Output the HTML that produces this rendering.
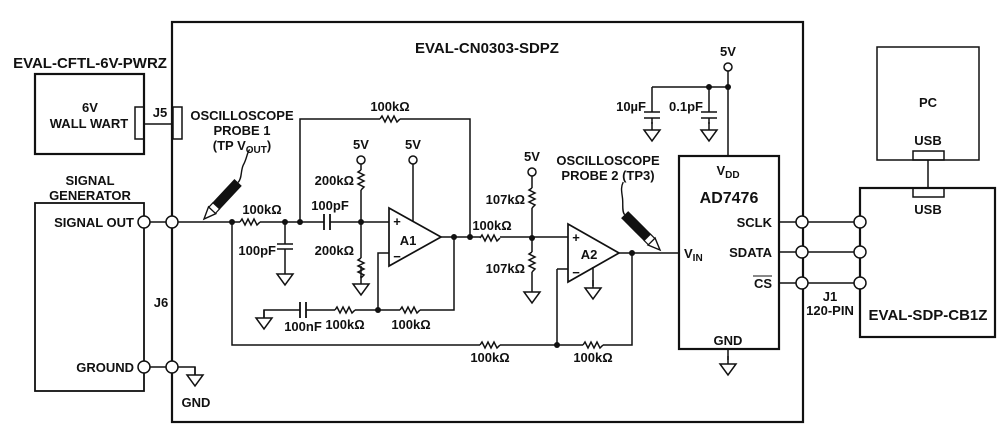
<!DOCTYPE html>
<html><head><meta charset="utf-8"><style>
html,body{margin:0;padding:0;background:#fff}
svg{display:block}
text{font-family:"Liberation Sans",Arial,sans-serif;font-weight:bold;font-size:13px;fill:#111}
</style></head><body>
<svg width="1007" height="443" viewBox="0 0 1007 443" xmlns="http://www.w3.org/2000/svg">
<defs>
<g id="gnd"><path d="M0 0V8M-8 8H8L0 19Z" fill="none" stroke="#111" stroke-width="1.5"/></g>
<g id="rh"><path d="M-10 0 -8 -3 -5 3 -2 -3 1 3 4 -3 7 3 10 0" fill="none" stroke="#111" stroke-width="1.5"/></g>
<g id="rv"><path d="M0 -10 -3 -8 3 -5 -3 -2 3 1 -3 4 3 7 0 10" fill="none" stroke="#111" stroke-width="1.5"/></g>
<g id="probe"><path d="M0 0 L12 -5 L12 5 Z" fill="#fff" stroke="#111" stroke-width="1.4"/><rect x="12" y="-4.5" width="6" height="9" fill="#fff" stroke="#111" stroke-width="1.2"/><rect x="18" y="-5" width="32" height="10" fill="#111"/></g>
</defs>
<g fill="none" stroke="#111" stroke-width="1.5">
<rect x="172" y="22" width="631" height="400" stroke-width="2.2"/>
<rect x="35" y="74" width="109" height="80" stroke-width="2.2"/>
<rect x="135" y="107" width="9" height="32"/>
<rect x="173" y="107" width="9" height="32"/>
<path d="M144 124H172"/>
<rect x="35" y="203" width="109" height="188" stroke-width="1.8"/>
<circle cx="144" cy="222" r="6" fill="#fff"/><circle cx="172" cy="222" r="6" fill="#fff"/>
<circle cx="144" cy="367" r="6" fill="#fff"/><circle cx="172" cy="367" r="6" fill="#fff"/>
<path d="M150 222H166M150 367H166M178 367H195V375"/>
<path d="M178 222H240M260 222H324M330 222H389"/>
<path d="M324 214V230M330 214V230" stroke-width="1.8"/>
<path d="M285 222V244M277 244H293M277 249H293M285 249V266"/>
<path d="M300 222V119H380M400 119H470V237"/>
<path d="M361 164V170M361 190V258M361 278V266"/>
<path d="M413 164V221"/>
<path d="M389 208L441 237L389 266Z" stroke-width="1.7"/>
<path d="M441 237H480M500 237H568"/>
<path d="M454 237V310H420M400 310H355M335 310H306M300 310H264V318"/>
<path d="M306 302V318M300 302V318" stroke-width="1.8"/>
<path d="M378 310V253H389"/>
<path d="M232 222V345H480M500 345H583M603 345H632V253"/>
<path d="M532 176V188M532 208V252M532 272V284"/>
<path d="M568 224L619 253L568 282Z" stroke-width="1.7"/>
<path d="M557 269H568M557 269V345"/>
<path d="M593 267V286"/>
<path d="M619 253H679"/>
<rect x="679" y="156" width="100" height="193" stroke-width="2.2"/>
<path d="M728 71V156M652 87H728M652 87V112M709 87V112"/>
<path d="M644 112H660M644 118H660M701 112H717M701 118H717"/>
<path d="M652 118V124M709 118V124"/>
<path d="M728 349V360"/>
<path d="M779 222H854M779 252H854M779 283H854"/>
<rect x="860" y="188" width="135" height="149" stroke-width="2.2"/>
<rect x="877" y="47" width="102" height="113"/>
<rect x="913" y="151" width="31" height="9"/>
<rect x="913" y="188" width="31" height="9"/>
<path d="M928 160V188"/>
</g>
<g fill="#fff" stroke="#111" stroke-width="1.5">
<circle cx="802" cy="222" r="6"/><circle cx="802" cy="252" r="6"/><circle cx="802" cy="283" r="6"/>
<circle cx="860" cy="222" r="6"/><circle cx="860" cy="252" r="6"/><circle cx="860" cy="283" r="6"/>
<circle cx="361" cy="160" r="4"/><circle cx="413" cy="160" r="4"/><circle cx="532" cy="172" r="4"/><circle cx="728" cy="67" r="4"/>
</g>
<g fill="#111">
<circle cx="232" cy="222" r="3"/><circle cx="285" cy="222" r="3"/><circle cx="300" cy="222" r="3"/><circle cx="361" cy="222" r="3"/>
<circle cx="454" cy="237" r="3"/><circle cx="470" cy="237" r="3"/><circle cx="378" cy="310" r="3"/>
<circle cx="532" cy="238" r="3"/><circle cx="557" cy="345" r="3"/><circle cx="632" cy="253" r="3"/>
<circle cx="709" cy="87" r="3"/><circle cx="728" cy="87" r="3"/>
</g>
<use href="#rh" x="250" y="222"/><use href="#rh" x="390" y="119"/><use href="#rh" x="345" y="310"/><use href="#rh" x="410" y="310"/>
<use href="#rh" x="490" y="238"/><use href="#rh" x="490" y="345"/><use href="#rh" x="593" y="345"/>
<use href="#rv" x="361" y="180"/><use href="#rv" x="361" y="268"/><use href="#rv" x="532" y="198"/><use href="#rv" x="532" y="262"/>
<use href="#gnd" x="285" y="266"/><use href="#gnd" x="361" y="276"/><use href="#gnd" x="264" y="310"/><use href="#gnd" x="195" y="367"/>
<use href="#gnd" x="532" y="284"/><use href="#gnd" x="593" y="280"/><use href="#gnd" x="652" y="122"/><use href="#gnd" x="709" y="122"/><use href="#gnd" x="728" y="356"/>
<g transform="translate(204,219) rotate(-47)"><use href="#probe"/><path d="M50 0 C56 0 60 -6 66 -8 C74 -10 78 -14 82 -14" fill="none" stroke="#111" stroke-width="1.4"/></g>
<g transform="translate(660,250) rotate(-135)"><use href="#probe"/><path d="M50 0 C54 0 58 6 63 10 C68 14 72 16 74 22" fill="none" stroke="#111" stroke-width="1.4"/></g>
<text x="90" y="68" text-anchor="middle" style="font-size:15px">EVAL-CFTL-6V-PWRZ</text>
<text x="487" y="53" text-anchor="middle" style="font-size:15px">EVAL-CN0303-SDPZ</text>
<text x="90" y="112" text-anchor="middle">6V</text>
<text x="89" y="128" text-anchor="middle">WALL WART</text>
<text x="160" y="117" text-anchor="middle">J5</text>
<text x="90" y="185" text-anchor="middle">SIGNAL</text>
<text x="90" y="200" text-anchor="middle">GENERATOR</text>
<text x="134" y="227" text-anchor="end">SIGNAL OUT</text>
<text x="134" y="372" text-anchor="end">GROUND</text>
<text x="161" y="307" text-anchor="middle">J6</text>
<text x="196" y="407" text-anchor="middle">GND</text>
<text x="242" y="120" text-anchor="middle">OSCILLOSCOPE</text>
<text x="242" y="135" text-anchor="middle">PROBE 1</text>
<text x="242" y="150" text-anchor="middle">(TP V<tspan font-size="10" dy="3">OUT</tspan><tspan dy="-3">)</tspan></text>
<text x="390" y="111" text-anchor="middle">100kΩ</text>
<text x="361" y="149" text-anchor="middle">5V</text>
<text x="413" y="149" text-anchor="middle">5V</text>
<text x="354" y="185" text-anchor="end">200kΩ</text>
<text x="354" y="255" text-anchor="end">200kΩ</text>
<text x="262" y="214" text-anchor="middle">100kΩ</text>
<text x="330" y="210" text-anchor="middle">100pF</text>
<text x="276" y="255" text-anchor="end">100pF</text>
<text x="397" y="226" text-anchor="middle">+</text>
<text x="397" y="261" text-anchor="middle">−</text>
<text x="408" y="245" text-anchor="middle">A1</text>
<text x="303" y="331" text-anchor="middle">100nF</text>
<text x="345" y="329" text-anchor="middle">100kΩ</text>
<text x="411" y="329" text-anchor="middle">100kΩ</text>
<text x="492" y="230" text-anchor="middle">100kΩ</text>
<text x="532" y="161" text-anchor="middle">5V</text>
<text x="525" y="204" text-anchor="end">107kΩ</text>
<text x="525" y="273" text-anchor="end">107kΩ</text>
<text x="576" y="242" text-anchor="middle">+</text>
<text x="576" y="277" text-anchor="middle">−</text>
<text x="589" y="259" text-anchor="middle">A2</text>
<text x="608" y="165" text-anchor="middle">OSCILLOSCOPE</text>
<text x="608" y="180" text-anchor="middle">PROBE 2 (TP3)</text>
<text x="490" y="362" text-anchor="middle">100kΩ</text>
<text x="593" y="362" text-anchor="middle">100kΩ</text>
<text x="728" y="56" text-anchor="middle">5V</text>
<text x="646" y="111" text-anchor="end">10µF</text>
<text x="703" y="111" text-anchor="end">0.1pF</text>
<text x="728" y="175" text-anchor="middle">V<tspan font-size="10" dy="3">DD</tspan></text>
<text x="729" y="203" text-anchor="middle" style="font-size:16px">AD7476</text>
<text x="684" y="258">V<tspan font-size="10" dy="3">IN</tspan></text>
<text x="772" y="227" text-anchor="end">SCLK</text>
<text x="772" y="257" text-anchor="end">SDATA</text>
<text x="772" y="288" text-anchor="end">CS</text>
<path d="M753 276H772" stroke="#111" stroke-width="1"/>
<text x="728" y="345" text-anchor="middle">GND</text>
<text x="830" y="301" text-anchor="middle">J1</text>
<text x="830" y="315" text-anchor="middle">120-PIN</text>
<text x="928" y="107" text-anchor="middle">PC</text>
<text x="928" y="145" text-anchor="middle">USB</text>
<text x="928" y="214" text-anchor="middle">USB</text>
<text x="928" y="320" text-anchor="middle" style="font-size:15px">EVAL-SDP-CB1Z</text>
</svg>
</body></html>
